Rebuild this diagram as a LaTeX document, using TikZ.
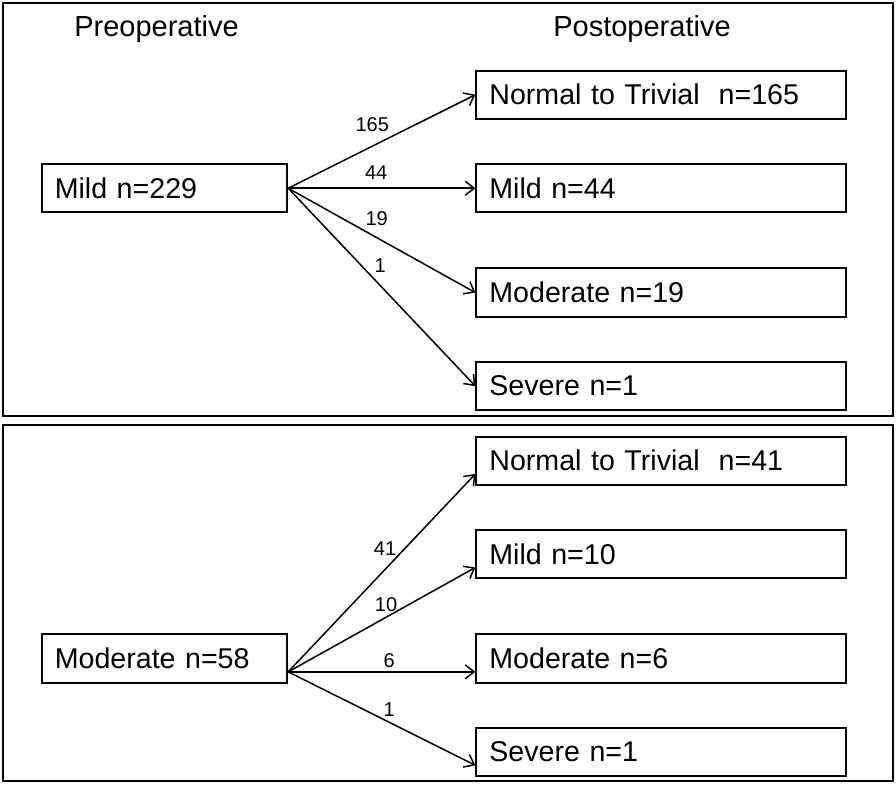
\documentclass[tikz,border=0pt]{standalone}
\usepackage{fontspec}
\setmainfont{Liberation Sans}
\usetikzlibrary{matrix, arrows.meta, positioning}

\tikzset{
  grade/.style={draw, rectangle, line width=1pt, minimum height=24.15pt, inner xsep=6.5pt, inner ysep=0pt, align=left, font=\fontsize{14.3}{17}\selectfont},
  prebox/.style={grade, text width=109.7pt},
  postbox/.style={grade, text width=171.85pt},
  flow/.style={-{Straight Barb[length=4.5pt,width=7pt]}, line width=0.75pt},
  cnt/.style={inner sep=0pt, font=\fontsize{10}{12}\selectfont},
  head/.style={font=\fontsize{14.5}{17}\selectfont, anchor=base},
  panel/.style={draw, line width=1pt}
}

\begin{document}
\begin{tikzpicture}
\useasboundingbox (0,0) rectangle (448pt,-392.5pt);
\draw[panel] (1.5pt,-1.5pt) rectangle (446.3pt,-208pt);
\draw[panel] (1.5pt,-212.5pt) rectangle (446.3pt,-390.5pt);
\node[head] (h1) at (78.25pt,-18.35pt) {Preoperative};
\node[head] (h2) at (321pt,-18.35pt) {Postoperative};
\matrix (m1) [column sep = 93.6pt, row sep = 21.6pt, inner sep = 0pt, anchor = north west] at (20.2pt,-34.6pt) {
& \node[postbox](t1){Normal to Trivial\ \ n=165}; \\
\node[prebox](l1){Mild n=229}; & \node[postbox](t2){Mild n=44}; \\[5.45pt]
& \node[postbox](t3){Moderate n=19}; \\
& \node[postbox](t4){Severe n=1}; \\
};
\matrix (m2) [column sep = 93.6pt, row sep = 21.6pt, inner sep = 0pt, anchor = north west] at (20.2pt,-217.6pt) {
& \node[postbox](u1){Normal to Trivial\ \ n=41}; \\
& \node[postbox](u2){Mild n=10}; \\[5.45pt]
\node[prebox](l2){Moderate n=58}; & \node[postbox](u3){Moderate n=6}; \\
& \node[postbox](u4){Severe n=1}; \\
};
\draw[flow] (l1.east) -- (t1.west) node[cnt, pos=.449, above=7.1pt] {165};
\draw[flow] (l1.east) -- (t2.west) node[cnt, pos=.47, above=4pt] {44};
\draw[flow] (l1.east) -- (t3.west) node[cnt, pos=.473, above=5.5pt] {19};
\draw[flow] (l1.east) -- (t4.west) node[cnt, pos=.491, above=6.2pt] {1};
\draw[flow] ([yshift=-6.6pt]l2.east) -- ([yshift=-6.6pt]u1.west) node[cnt, pos=.5175, above=6.5pt] {41};
\draw[flow] ([yshift=-6.6pt]l2.east) -- ([yshift=-6.6pt]u2.west) node[cnt, pos=.523, above=2.6pt] {10};
\draw[flow] ([yshift=-6.6pt]l2.east) -- ([yshift=-6.6pt]u3.west) node[cnt, pos=.539, above=1.6pt] {6};
\draw[flow] ([yshift=-6.6pt]l2.east) -- ([yshift=-6.6pt]u4.west) node[cnt, pos=.539, above=2.6pt] {1};
\end{tikzpicture}
\end{document}
